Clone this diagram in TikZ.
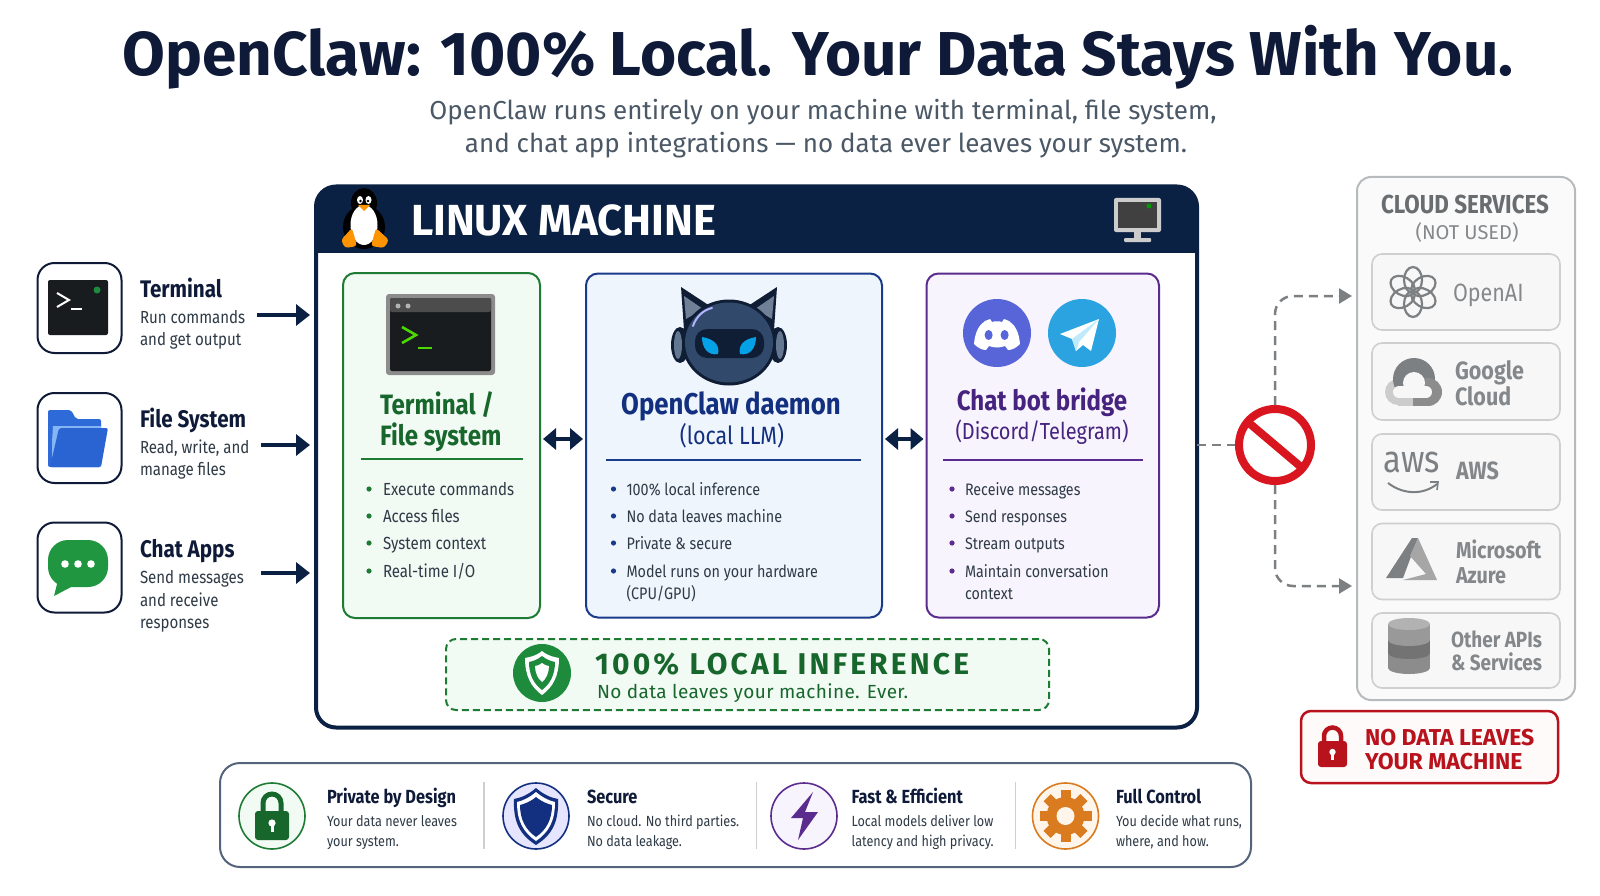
\documentclass[tikz,border=0pt]{standalone}
\usepackage{fontspec}
\setmainfont{Fira Sans}
\newfontfamily\narrowfont[FakeStretch=0.86]{Fira Sans}
\newfontfamily\spacedfont[LetterSpace=10.5]{Fira Sans}
\newfontfamily\wideinfo[LetterSpace=2]{Fira Sans}
\usetikzlibrary{arrows.meta}
\newcommand{\fsz}[1]{\fontsize{#1}{#1}\selectfont}

\definecolor{navyblue}{HTML}{0B2143}
\definecolor{inkdark}{HTML}{0E1A38}
\definecolor{bodygrey}{HTML}{2E3A46}
\definecolor{subgrey}{HTML}{4B5866}
\definecolor{greenedge}{HTML}{1E7B34}
\definecolor{greenfill}{HTML}{F2FAF4}
\definecolor{greenhead}{HTML}{17662C}
\definecolor{chatgreen}{HTML}{1F963F}
\definecolor{shieldgreen}{HTML}{1E8A3C}
\definecolor{folderback}{HTML}{2F6BD8}
\definecolor{folderfront}{HTML}{2A64D2}
\definecolor{folderlight}{HTML}{84B6F5}
\definecolor{blueedge}{HTML}{1A3A8A}
\definecolor{bluefill}{HTML}{EFF5FD}
\definecolor{bluehead}{HTML}{12307F}
\definecolor{purpleedge}{HTML}{5B2C8E}
\definecolor{purplefill}{HTML}{F8F4FD}
\definecolor{purplehead}{HTML}{46237F}
\definecolor{cloudtext}{HTML}{85888B}
\definecolor{cloudicon}{HTML}{7D8083}
\definecolor{cloudedge}{HTML}{B8BBBD}
\definecolor{rowedge}{HTML}{CDCFD1}
\definecolor{stopred}{HTML}{D9161F}
\definecolor{lockred}{HTML}{B8121C}
\definecolor{termdark}{HTML}{181C1F}
\definecolor{orangeedge}{HTML}{D97B1E}
\definecolor{robothead}{HTML}{31496B}
\definecolor{robotdark}{HTML}{101E35}
\definecolor{discordblue}{HTML}{5865D8}
\definecolor{telegramblue}{HTML}{2AA3E0}

\tikzset{
    lefttext/.style={anchor=base west, inner sep=0pt, outer sep=0pt},
    midtext/.style={anchor=base, inner sep=0pt, outer sep=0pt},
    panelbox/.style={draw, rectangle, rounded corners=12pt, line width=2pt, inner sep=0pt, outer sep=0pt},
    iconbox/.style={panelbox, draw=inkdark, fill=white, rounded corners=17pt, minimum width=84pt, minimum height=90pt},
    cloudrow/.style={panelbox, draw=rowedge, fill=black!3, line width=1.6pt, minimum width=188pt, rounded corners=10pt},
    flowarrow/.style={draw=navyblue, line width=4.5pt, -{Triangle[length=14pt,width=21pt]}},
    bothway/.style={draw=navyblue, line width=4.5pt, {Triangle[length=13pt,width=21pt]}-{Triangle[length=13pt,width=21pt]}},
    nopath/.style={draw=cloudicon, line width=2.5pt, dash pattern=on 9pt off 6pt},
    nohead/.style={-{Triangle[length=13pt,width=15pt]}},
    perkdisc/.style={draw, circle, line width=1.6pt, minimum size=66pt, inner sep=0pt, outer sep=0pt}
}

\begin{document}
\begin{tikzpicture}[x=1pt, y=-1pt]
    \useasboundingbox (0,0) rectangle (1600,896);
    \fill[white] (0,0) rectangle (1600,896);

    % Title
    \node (title) [midtext, text=inkdark, font=\fsz{62}\bfseries] at (818,76) {OpenClaw: 100\% Local. Your Data Stays With You.};
    \node (subone) [midtext, text=subgrey, font=\fsz{26}] at (823,120) {OpenClaw runs entirely on your machine with terminal, file system,};
    \node (subtwo) [midtext, text=subgrey, font=\fsz{26}] at (826,153) {and chat app integrations — no data ever leaves your system.};

    % Linux machine
    \node (linuxbox) [panelbox, draw=navyblue, fill=white, line width=4pt, rounded corners=20pt, minimum width=881pt, minimum height=541pt] at (756.5,457) {};
    \begin{scope}
        \clip (300,170) rectangle (1210,252);
        \fill[navyblue, rounded corners=20pt] (316,186) rectangle (1197,400);
    \end{scope}
    \node (linuxhead) [lefttext, text=white, font=\fsz{43.5}\bfseries] at (411,235) {LINUX MACHINE};

    % Penguin
    \fill[black] (364,203) ellipse (13 and 15);
    \fill[black] (364,227) ellipse (21 and 22);
    \fill[white] (364,225) ellipse (13.5 and 20);
    \fill[white] (360,200) ellipse (3 and 4);
    \fill[white] (368.5,200) ellipse (3 and 4);
    \fill[black] (360.5,201) circle (1.4);
    \fill[black] (368,201) circle (1.4);
    \fill[orange!85!yellow] (358,205) -- (370,205) -- (364,211) -- cycle;
    \fill[orange!85!yellow, rounded corners=3pt] (352,228) -- (357,246) -- (345,248) -- (341,240) -- cycle;
    \fill[orange!85!yellow, rounded corners=3pt] (376,228) -- (371,246) -- (384,248) -- (389,240) -- cycle;

    % Monitor
    \fill[black!20, rounded corners=2pt] (1114,198) rectangle (1161,232);
    \fill[black!75] (1118,202) rectangle (1157,228);
    \fill[green!60!black] (1149,206) circle (2.5);
    \fill[black!20] (1134,232) rectangle (1141,239);
    \fill[black!20, rounded corners=1pt] (1124,238) rectangle (1151,242);

    % Left inputs
    \node (termicon) [iconbox] at (79.5,308) {};
    \node (fileicon) [iconbox] at (79.5,438) {};
    \node (chaticon) [iconbox] at (79.5,567.5) {};

    \fill[termdark, rounded corners=2pt] (48,280) rectangle (108,335);
    \fill[shieldgreen] (97,290) circle (3.5);
    \draw[white, line width=2pt] (57,293) -- (69,300) -- (57,307);
    \draw[white, line width=2pt] (71,309) -- (82,309);

    \fill[folderback, rounded corners=2pt] (48,467) -- (48,410) -- (71,410) -- (76,419) -- (101,419) -- (101,467) -- cycle;
    \fill[folderlight] (52,467) -- (52,442) -- (53,426) -- (101,426) -- (101,467) -- cycle;
    \fill[folderfront, rounded corners=2pt] (59,428) -- (108,428) -- (101,467) -- (50,467) -- cycle;

    \fill[chatgreen, rounded corners=20pt] (48,540) rectangle (108,587);
    \fill[chatgreen] (58,580) -- (54,596) -- (73,586) -- cycle;
    \foreach \x in {65,78,91} {
        \fill[white] (\x,564) circle (3.8);
    }

    \node (termname) [lefttext, text=inkdark, font=\narrowfont\fsz{24}\bfseries] at (140,297) {Terminal};
    \node (filename) [lefttext, text=inkdark, font=\narrowfont\fsz{24}\bfseries] at (140,427) {File System};
    \node (chatname) [lefttext, text=inkdark, font=\narrowfont\fsz{24}\bfseries] at (140,557) {Chat Apps};
    \foreach \y/\txt in {323/Run commands, 345/and get output, 453/{Read, write, and}, 475/manage files, 583/Send messages, 606/and receive, 628/responses} {
        \node (leftline\y) [lefttext, text=bodygrey, font=\narrowfont\fsz{17.5}] at (140,\y) {\txt};
    }

    % Arrows into the machine
    \coordinate (termstart) at (257,315);
    \coordinate (filestart) at (261,445);
    \coordinate (chatstart) at (261,573);
    \draw[flowarrow, shorten >=6pt] (termstart) -- (termstart -| linuxbox.west);
    \draw[flowarrow, shorten >=6pt] (filestart) -- (filestart -| linuxbox.west);
    \draw[flowarrow, shorten >=6pt] (chatstart) -- (chatstart -| linuxbox.west);

    % Green panel
    \node (greenpanel) [panelbox, draw=greenedge, fill=greenfill, minimum width=197pt, minimum height=345pt] at (441.5,445.5) {};
    \fill[black!45, rounded corners=3pt] (386,294) rectangle (495,375);
    \fill[termdark, rounded corners=2pt] (390,298) rectangle (491,371);
    \fill[black!70, rounded corners=2pt] (390,298) rectangle (491,312);
    \fill[black!30] (398,306) circle (2.5);
    \fill[black!30] (408,306) circle (2.5);
    \draw[green!65!yellow!85!black, line width=2.6pt] (402,327) -- (416,335) -- (402,343);
    \draw[green!65!yellow!85!black, line width=2.6pt] (418,348) -- (432,348);
    \node (greenone) [lefttext, text=greenhead, font=\narrowfont\fsz{28}\bfseries] at (380,414) {Terminal /};
    \node (greentwo) [lefttext, text=greenhead, font=\narrowfont\fsz{28}\bfseries] at (380,445) {File system};
    \draw[greenedge, line width=1.8pt] (361,459) -- (523,459);
    \foreach \y/\txt in {495/Execute commands, 522/Access files, 549/System context, 577/{Real-time I/O}} {
        \fill[greenedge] (369,\y-6) circle (2.6);
        \node (greenline\y) [lefttext, text=bodygrey, font=\narrowfont\fsz{17.5}] at (383,\y) {\txt};
    }

    % Blue panel
    \node (bluepanel) [panelbox, draw=blueedge, fill=bluefill, minimum width=296pt, minimum height=344pt] at (734,445.5) {};
    \fill[robotdark] (684,330) -- (681,287) -- (716,310) -- cycle;
    \fill[robotdark] (774,330) -- (777,287) -- (742,310) -- cycle;
    \fill[robothead!70!white] (686,319) -- (684,296) -- (703,309) -- cycle;
    \fill[robothead!70!white] (772,319) -- (774,296) -- (755,309) -- cycle;
    \fill[robotdark] (680,345) ellipse (9 and 18);
    \fill[robotdark] (778,345) ellipse (9 and 18);
    \fill[robothead!75!white] (678,345) ellipse (4 and 14);
    \fill[robothead!75!white] (780,345) ellipse (4 and 14);
    \fill[robotdark] (729,342.5) ellipse (47 and 43);
    \fill[robothead] (729,342.5) ellipse (44 and 40);
    \fill[robotdark, rounded corners=12pt] (695,329) rectangle (764,358);
    \fill[cyan!90!blue] (702,337) .. controls (714,339) and (720,345) .. (718,354) .. controls (708,356) and (702,348) .. (702,337) -- cycle;
    \fill[cyan!90!blue] (756,337) .. controls (744,339) and (738,345) .. (740,354) .. controls (750,356) and (756,348) .. (756,337) -- cycle;
    \draw[white!70!blue, line width=2pt, line cap=round] (693,326) .. controls (696,317) and (703,310) .. (712,308);
    \node (blueone) [midtext, text=bluehead, font=\narrowfont\fsz{30}\bfseries] at (731,414) {OpenClaw daemon};
    \node (bluetwo) [midtext, text=bluehead, font=\narrowfont\fsz{25}] at (732,444) {(local LLM)};
    \draw[blueedge, line width=1.8pt] (606,460) -- (861,460);
    \foreach \y/\txt in {495/100\% local inference, 522/No data leaves machine, 549/Private \& secure, 577/Model runs on your hardware} {
        \fill[blueedge] (613.5,\y-6) circle (2.6);
        \node (blueline\y) [lefttext, text=bodygrey, font=\narrowfont\fsz{16.7}] at (626.5,\y) {\txt};
    }
    \node (bluewrap) [lefttext, text=bodygrey, font=\narrowfont\fsz{16.7}] at (626.5,599) {(CPU/GPU)};

    % Purple panel
    \node (purplepanel) [panelbox, draw=purpleedge, fill=purplefill, minimum width=232.5pt, minimum height=344pt] at (1042.75,445.5) {};
    \node (discordlogo) [circle, fill=discordblue, minimum size=68pt, inner sep=0pt] at (997,333) {};
    \node (telegramlogo) [circle, fill=telegramblue, minimum size=68pt, inner sep=0pt] at (1082,333) {};
    \fill[white] (974,344) .. controls (975,332) and (979,325) .. (985,321) -- (990,319) -- (992,322) .. controls (995,321) and (999,321) .. (1002,322) -- (1004,319) -- (1009,321) .. controls (1015,325) and (1019,332) .. (1020,344) .. controls (1016,348) and (1012,350) .. (1008,350) -- (1005,346) .. controls (1000,348) and (994,348) .. (989,346) -- (986,350) .. controls (982,350) and (978,348) .. (974,344) -- cycle;
    \fill[discordblue] (988.6,335) ellipse (4 and 5);
    \fill[discordblue] (1004.6,335) ellipse (4 and 5);
    \fill[white] (1099,319) -- (1060,334) -- (1072,339) -- (1076,351) -- (1083,345) -- (1091,351) -- cycle;
    \fill[cyan!25!white] (1072,339) -- (1099,319) -- (1079,342) -- (1076,351) -- cycle;
    \node (purpleone) [midtext, text=purplehead, font=\narrowfont\fsz{28}\bfseries] at (1042,410) {Chat bot bridge};
    \node (purpletwo) [midtext, text=purplehead, font=\narrowfont\fsz{23.2}] at (1042,439) {(Discord/Telegram)};
    \draw[purpleedge, line width=1.8pt] (943,460) -- (1143,460);
    \foreach \y/\txt in {495/Receive messages, 522/Send responses, 549/Stream outputs, 577/Maintain conversation} {
        \fill[purpleedge] (952,\y-6) circle (2.6);
        \node (purpleline\y) [lefttext, text=bodygrey, font=\narrowfont\fsz{16.6}] at (965,\y) {\txt};
    }
    \node (purplewrap) [lefttext, text=bodygrey, font=\narrowfont\fsz{16.6}] at (965,599) {context};

    % Panel links
    \coordinate (gpout) at (543,439);
    \coordinate (bpout) at (885,439);
    \draw[bothway, shorten >=3pt] (gpout) -- (gpout -| bluepanel.west);
    \draw[bothway, shorten >=3pt] (bpout) -- (bpout -| purplepanel.west);

    % Local inference banner
    \node (localbanner) [panelbox, draw=greenedge, fill=greenfill, dash pattern=on 7pt off 4pt, rounded corners=10pt, minimum width=603pt, minimum height=71pt] at (747.5,674.5) {};
    \node (shieldback) [circle, fill=shieldgreen, minimum size=58pt, inner sep=0pt] at (542,673) {};
    \fill[white] (542,651) .. controls (548,656) and (554,657) .. (559,658) .. controls (559,676) and (553,687) .. (542,695) .. controls (531,687) and (525,676) .. (525,658) .. controls (530,657) and (536,656) .. (542,651) -- cycle;
    \fill[shieldgreen] (542,656) .. controls (547,660) and (551,661) .. (555,662) .. controls (555,675) and (550,684) .. (542,690) .. controls (534,684) and (529,675) .. (529,662) .. controls (533,661) and (537,660) .. (542,656) -- cycle;
    \fill[white] (542,663) .. controls (545,665) and (547,666) .. (549,666) .. controls (549,673) and (546,679) .. (542,682) .. controls (538,679) and (535,673) .. (535,666) .. controls (537,666) and (539,665) .. (542,663) -- cycle;
    \node (localone) [lefttext, text=greenhead, font=\spacedfont\fsz{30}\bfseries] at (595,674) {100\% LOCAL INFERENCE};
    \node (localtwo) [lefttext, text=greenhead, font=\wideinfo\fsz{19}] at (597,698) {No data leaves your machine. Ever.};

    % Cloud services
    \node (cloudbox) [panelbox, draw=cloudedge, fill=black!2, rounded corners=14pt, minimum width=218pt, minimum height=523pt] at (1466,438.5) {};
    \node (cloudhead) [midtext, text=cloudicon!85!black, font=\narrowfont\fsz{26}\bfseries] at (1465,213) {CLOUD SERVICES};
    \node (cloudsub) [midtext, text=cloudtext, font=\fsz{20}] at (1467,239) {(NOT USED)};
    \node (openairow) [cloudrow, minimum height=76pt] at (1466,292) {};
    \node (googlerow) [cloudrow, minimum height=77pt] at (1466,381.5) {};
    \node (awsrow) [cloudrow, minimum height=76pt] at (1466,472) {};
    \node (azurerow) [cloudrow, minimum height=76pt] at (1466,561.5) {};
    \node (otherrow) [cloudrow, minimum height=75pt] at (1466,650.5) {};

    % OpenAI knot
    \foreach \a in {0,60,...,300} {
        \draw[cloudicon, line width=2.2pt, rotate around={\a:(1413,292)}] (1413,280) ellipse (9 and 13);
    }
    \node (openaitxt) [lefttext, text=cloudtext, font=\narrowfont\fsz{25}] at (1453,301) {OpenAI};

    % Google cloud
    \fill[black!20] (1398,392) circle (13);
    \fill[cloudicon] (1414,379) circle (21);
    \fill[black!45] (1428,392) circle (14);
    \fill[black!20] (1398,392) rectangle (1413,406);
    \fill[black!45] (1413,392) rectangle (1428,406);
    \fill[black!3] (1399,392) circle (6);
    \fill[black!3] (1414,383) circle (11);
    \fill[black!3] (1426,392) circle (6);
    \fill[black!3] (1399,386) rectangle (1426,398);
    \node (googleone) [lefttext, text=cloudtext, font=\narrowfont\fsz{25}\bfseries] at (1455,379) {Google};
    \node (googletwo) [lefttext, text=cloudtext, font=\narrowfont\fsz{25}\bfseries] at (1455,405) {Cloud};

    % AWS
    \node (awslogo) [midtext, text=cloudicon, font=\narrowfont\fsz{38}] at (1412,472) {aws};
    \draw[cloudicon, line width=2pt] (1388,483) .. controls (1405,496) and (1425,494) .. (1437,484);
    \draw[cloudicon, line width=1.6pt] (1430,482) -- (1438,482) -- (1437,490);
    \node (awstxt) [lefttext, text=cloudtext, font=\narrowfont\fsz{25}\bfseries] at (1456,479) {AWS};

    % Azure
    \fill[cloudicon] (1412,538) -- (1386,578) -- (1403,578) -- (1418,538) -- cycle;
    \fill[black!35] (1418,538) -- (1437,580) -- (1403,580) -- (1426,574) -- (1410,556) -- cycle;
    \node (azureone) [lefttext, text=cloudtext, font=\narrowfont\fsz{23}\bfseries] at (1456,558) {Microsoft};
    \node (azuretwo) [lefttext, text=cloudtext, font=\narrowfont\fsz{23}\bfseries] at (1456,583) {Azure};

    % Database
    \foreach \y/\g in {660/45, 645/55, 632/40} {
        \fill[black!\g] (1388,\y-8) rectangle (1430,\y+8);
        \fill[black!\g] (1409,\y+8) ellipse (21 and 6);
        \fill[black!30] (1409,\y-8) ellipse (21 and 6);
    }
    \node (otherone) [lefttext, text=cloudtext, font=\narrowfont\fsz{22}\bfseries] at (1451,647) {Other APIs};
    \node (othertwo) [lefttext, text=cloudtext, font=\narrowfont\fsz{22}\bfseries] at (1451,670) {\& Services};

    % Blocked path
    \node (nosign) [circle, draw=stopred, line width=8pt, minimum size=72pt, inner sep=0pt, outer sep=4pt] at (1275,445) {};
    \draw[stopred, line width=8pt] (nosign.center) ++(-26,-22) coordinate (slasha) (slasha) -- ++(52,44) coordinate (slashb);
    \coordinate (upend) at (1352,296);
    \coordinate (downend) at (1352,586);
    \draw[nopath] (linuxbox.east |- nosign) -- (nosign.west);
    \draw[nopath, nohead, rounded corners=18pt] (nosign.north) -- (nosign.north |- upend) -- (upend);
    \draw[nopath, nohead, rounded corners=18pt] (nosign.south) -- (nosign.south |- downend) -- (downend);

    % No data badge
    \node (nodatabadge) [panelbox, draw=lockred, fill=red!2, rounded corners=10pt, line width=2.5pt, minimum width=257pt, minimum height=72pt] at (1429.5,747) {};
    \fill[lockred, rounded corners=3pt] (1318,741) rectangle (1347,767);
    \draw[lockred, line width=4.5pt] (1324,743) -- (1324,736) arc[start angle=180, end angle=0, x radius=8.5, y radius=-8.5] -- (1341,743);
    \fill[white] (1332.5,752) circle (3.2);
    \fill[white] (1331,752) rectangle (1334,760);
    \node (nodataone) [lefttext, text=lockred, font=\fsz{23}\bfseries] at (1365,745) {NO DATA LEAVES};
    \node (nodatatwo) [lefttext, text=lockred, font=\fsz{23}\bfseries] at (1365,769) {YOUR MACHINE};

    % Bottom strip
    \node (perkstrip) [panelbox, draw=navyblue!70!white, fill=white, rounded corners=20pt, minimum width=1031pt, minimum height=104pt] at (735.5,815) {};
    \node (privatedisc) [perkdisc, draw=greenedge, fill=greenfill] at (272,816) {};
    \node (securedisc) [perkdisc, draw=bluehead, fill=blue!10] at (536,816) {};
    \node (fastdisc) [perkdisc, draw=purpleedge, fill=purplefill] at (804,816) {};
    \node (controldisc) [perkdisc, draw=orangeedge, fill=orange!8] at (1065.5,816) {};
    \foreach \x in {484,756.5,1015.7} {
        \draw[rowedge, line width=1.4pt] (\x,782) -- (\x,849);
    }

    % Padlock
    \fill[greenhead, rounded corners=3pt] (255,811) rectangle (289,840);
    \draw[greenhead, line width=5pt] (263,812) -- (263,803) arc[start angle=180, end angle=0, x radius=9, y radius=-9] -- (281,812);
    \fill[white] (272,823) circle (3.6);
    \fill[white] (270.5,823) rectangle (273.5,832);

    % Blue shield
    \fill[bluehead] (536,788) .. controls (544,795) and (552,798) .. (558,799) .. controls (559,822) and (552,835) .. (536,845) .. controls (520,835) and (513,822) .. (514,799) .. controls (520,798) and (528,795) .. (536,788) -- cycle;
    \fill[white] (536,792) .. controls (543,798) and (550,801) .. (555,802) .. controls (555,821) and (549,832) .. (536,841) .. controls (523,832) and (517,821) .. (517,802) .. controls (522,801) and (529,798) .. (536,792) -- cycle;
    \fill[bluehead] (536,797) .. controls (542,802) and (548,804) .. (552,805) .. controls (552,820) and (546,830) .. (536,837) .. controls (526,830) and (520,820) .. (520,805) .. controls (524,804) and (530,802) .. (536,797) -- cycle;

    % Lightning
    \fill[purpleedge] (813,792) -- (791,818) -- (803,818) -- (798,840) -- (818,812) -- (805,812) -- cycle;

    % Gear
    \foreach \a in {0,45,...,315} {
        \fill[orangeedge, rotate around={\a:(1065.5,816)}] (1060.5,790) rectangle (1070.5,802);
    }
    \fill[orangeedge] (1065.5,816) circle (19);
    \fill[orange!8] (1065.5,816) circle (9);

    \foreach \x/\y/\nm/\one/\two in {327/1/Private by Design/Your data never leaves/your system., 587/2/Secure/No cloud. No third parties./No data leakage., 851.6/3/Fast \& Efficient/Local models deliver low/latency and high privacy., 1116/4/Full Control/{You decide what runs,}/{where, and how.}} {
        \node (perkname\y) [lefttext, text=inkdark, font=\narrowfont\fsz{19}\bfseries] at (\x,803) {\nm};
        \node (perkone\y) [lefttext, text=bodygrey, font=\narrowfont\fsz{14.7}] at (\x,826) {\one};
        \node (perktwo\y) [lefttext, text=bodygrey, font=\narrowfont\fsz{14.7}] at (\x,846) {\two};
    }
\end{tikzpicture}
\end{document}
